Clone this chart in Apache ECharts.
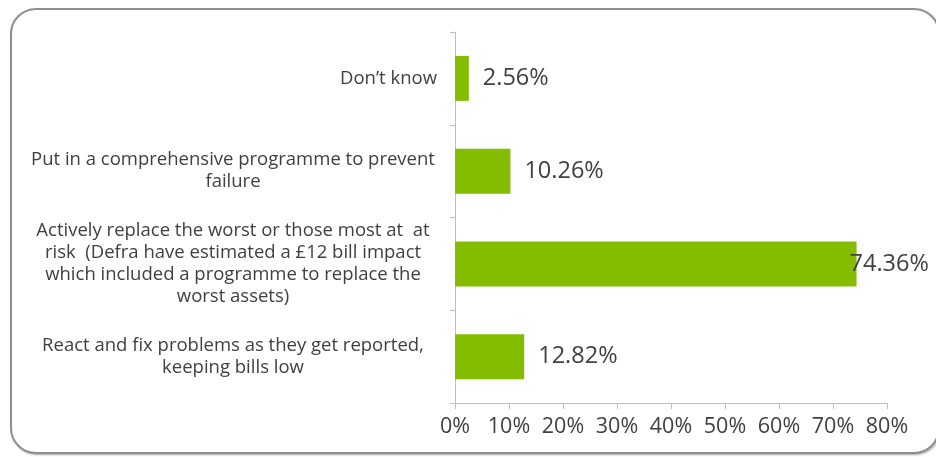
<!DOCTYPE html>
<html>
<head>
<meta charset="utf-8">
<script src="https://cdn.jsdelivr.net/npm/echarts@6/dist/echarts.min.js"></script>
<style>
  html, body { margin: 0; padding: 0; background: #fff; }
  #wrap { position: relative; width: 936px; height: 457px; overflow: hidden; }
  #chart { position: absolute; left: 0; top: 0; width: 936px; height: 457px; }
  #frame {
    position: absolute; left: 10px; top: 8px; width: 930px; height: 446px;
    border: 2px solid #8e8e8e; border-radius: 26px; box-sizing: border-box;
    box-shadow: 1px 1px 2px rgba(0,0,0,0.35); pointer-events: none;
  }
</style>
</head>
<body>
<div id="wrap">
  <div id="chart"></div>
  <div id="frame"></div>
</div>
<script>
// Survey responses: preferred approach to ageing assets
const categories = [
  "Don’t know",
  "Put in a comprehensive programme to prevent\nfailure",
  "Actively replace the worst or those most at  at\nrisk  (Defra have estimated a £12 bill impact\nwhich included a programme to replace the\nworst assets)",
  "React and fix problems as they get reported,\nkeeping bills low"
];
const shares = [2.56, 10.26, 74.36, 12.82];
const axisTicks = [0, 10, 20, 30, 40, 50, 60, 70, 80];

const textColor = '#404040';
const barColor = '#84bd00';
const axisColor = '#bfbfbf';
const font = '"Open Sans", Lato, sans-serif';

const chart = echarts.init(document.getElementById('chart'));

const seriesData = shares.map(function (v, i) {
  const item = { value: v };
  // the largest bar's label sits just over the bar end
  if (i === 2) item.label = { distance: -7 };
  return item;
});

chart.setOption({
  animation: false,
  grid: { left: 455, right: 49, top: 32, bottom: 54, containLabel: false },
  xAxis: {
    type: 'value',
    min: axisTicks[0],
    max: axisTicks[axisTicks.length - 1],
    interval: axisTicks[1] - axisTicks[0],
    axisLine: { show: true, lineStyle: { color: axisColor, width: 1 } },
    axisTick: { show: true, length: 6, lineStyle: { color: axisColor } },
    splitLine: { show: false },
    axisLabel: {
      formatter: '{value}%', color: textColor, fontFamily: font, fontSize: 21.5, margin: 13
    }
  },
  yAxis: {
    type: 'category',
    inverse: true,
    data: categories,
    axisLine: { show: true, lineStyle: { color: axisColor, width: 1 } },
    axisTick: { show: true, length: 5, lineStyle: { color: axisColor } },
    axisLabel: {
      align: 'right',
      margin: 18,
      color: textColor,
      fontFamily: font,
      fontSize: 18.5,
      lineHeight: 22,
      formatter: function (v) {
        const lines = v.split('\n');
        if (lines.length === 1) return '{s|' + v + '}';
        return lines.map(function (l) { return '{b|' + l + '}'; }).join('\n');
      },
      rich: {
        s: { fontFamily: font, fontSize: 18.5, color: textColor, lineHeight: 22 },
        b: { fontFamily: font, fontSize: 18.5, color: textColor, lineHeight: 22, width: 408, align: 'center' }
      }
    }
  },
  series: [{
    type: 'bar',
    data: seriesData,
    barWidth: 45,
    itemStyle: { color: barColor },
    label: {
      show: true,
      position: 'right',
      distance: 14,
      color: textColor,
      fontFamily: font,
      fontSize: 23.5,
      formatter: function (p) { return p.value.toFixed(2) + '%'; }
    }
  }]
});
</script>
</body>
</html>
